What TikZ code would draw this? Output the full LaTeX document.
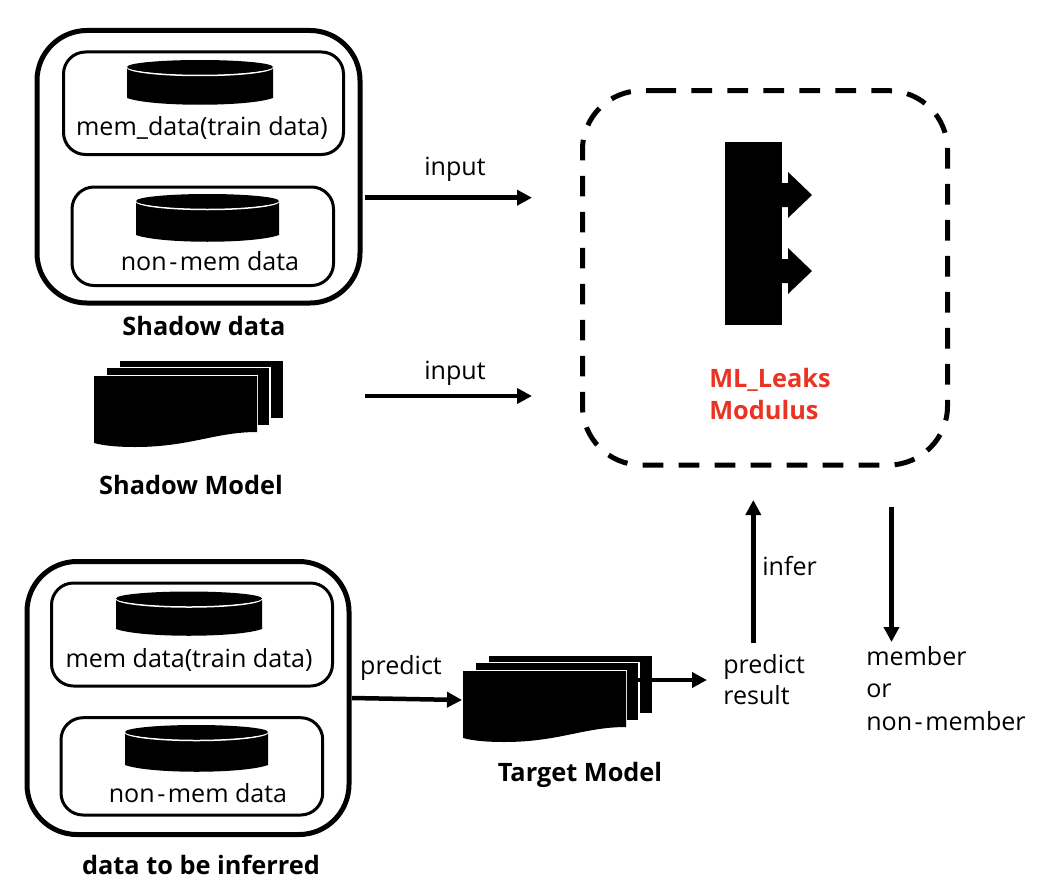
\documentclass[tikz,border=0pt]{standalone}
\usepackage{fontspec}
\setmainfont{Open Sans}
\usetikzlibrary{arrows.meta,calc}
\definecolor{leakred}{RGB}{234,51,35}
\newcommand{\widehy}{\kern1.9pt-\kern1.9pt}
\newcommand{\pxbox}[7]{% name x1 y1 x2 y2 width radius
  \node[draw=black,outer sep=0pt,line width=#6*0.75pt,rounded corners=#7*0.75pt,inner sep=0pt,minimum width=(#4-#2)*0.75pt,minimum height=(#5-#3)*0.75pt,anchor=north west] (#1) at (#2,#3) {};}
\newcommand{\discicon}[4]{% x1 y1 x2 y2
  \fill[black] (#1,#2+7) -- (#3,#2+7) -- (#3,#4-7) .. controls (#3-25,#4+2) and (#1+25,#4+2) .. (#1,#4-7) -- cycle;
  \draw[white,line width=1.5*0.75pt] (#1,#2+7) arc[start angle=180,end angle=360,x radius=(#3-#1)/2*0.75pt,y radius=8.5*0.75pt];
  \fill[black] ({(#1+#3)/2},#2+7) ellipse[x radius=(#3-#1)/2*0.75pt,y radius=7*0.75pt];
}
\newcommand{\docstack}[2]{% x y of top-left of the back sheet
  \begin{scope}[shift={(#1,#2)}]
    \fill[black] (0,0) rectangle (163,57);
    \fill[white] (-14.5,5.5) rectangle (150.5,66);
    \fill[black] (-13,7) rectangle (149,64);
    \fill[white] (-27.5,13.5) rectangle (137.5,73);
    \fill[black] (-26,15) -- (137,15) -- (137,71) .. controls (95,71) and (70,86) .. (15,86) .. controls (0,86) and (-15,85) .. (-26,82) -- cycle;
  \end{scope}
}
\tikzset{
  flow/.style={line width=4.5*0.75pt,-{Triangle[length=15*0.75pt,width=15*0.75pt]}},
  lbl/.style={font=\fontsize{18.8pt}{22pt}\selectfont,inner sep=0pt,anchor=base},
  lblw/.style={lbl,anchor=base west},
  boldlbl/.style={font=\fontsize{19pt}{22pt}\selectfont\bfseries,inner sep=0pt,anchor=base},
}
\begin{document}
\begin{tikzpicture}[x=0.75pt,y=-0.75pt]
\useasboundingbox (0,0) rectangle (1048,892);

% shadow data
\pxbox{shadowbox}{37}{30.5}{360}{303}{5}{50}
\pxbox{sinA}{63.5}{52}{343.5}{154.5}{3}{22}
\pxbox{sinB}{72}{187}{333.5}{285.5}{3}{22}
\discicon{127}{60}{273}{105}
\discicon{136}{194}{279}{242}
\node[lbl] (sA) at (202,135) {mem\_data(train data)};
\node[lbl] (sB) at (210,270) {non\widehy mem data};
\node[boldlbl] (sdata) at (204,335) {Shadow data};

% shadow model
\docstack{120}{361}
\node[boldlbl] (smodel) at (191,494) {Shadow Model};

% ML_Leaks module
\draw[black,line width=5*0.75pt,dash pattern=on 20.7*0.75pt off 15.3*0.75pt]
  (655.3,90.7) -- (888.5,90.7)
  arc[start angle=90,end angle=0,radius=59*0.75pt] -- (947.5,406)
  arc[start angle=0,end angle=-90,radius=59*0.75pt] -- (641.5,465)
  arc[start angle=-90,end angle=-180,radius=59*0.75pt] -- (582.5,149.7)
  arc[start angle=180,end angle=90,radius=59*0.75pt] -- (655.3,90.7);
\fill[black] (725,142) rectangle (782,325);
\fill[black] (782,183) -- (788,183) -- (788,172) -- (812,195) -- (788,218) -- (788,207) -- (782,207) -- cycle;
\fill[black] (782,259) -- (788,259) -- (788,248) -- (812,271) -- (788,294) -- (788,283) -- (782,283) -- cycle;
\node[boldlbl,anchor=base west,text=leakred] (ml) at (709,387) {ML\_Leaks};
\node[boldlbl,anchor=base west,text=leakred] (mod) at (709,419) {Modulus};

% lower data
\pxbox{inferbox}{27}{561.5}{349}{834.5}{5}{50}
\pxbox{iinA}{51.5}{583}{332.5}{686}{3}{22}
\pxbox{iinB}{61}{717.7}{322.7}{815}{3}{22}
\discicon{116}{591.5}{262}{636}
\discicon{125}{725}{268}{772}
\node[lbl] (iA) at (189,667) {mem data(train data)};
\node[lbl] (iB) at (198,802) {non\widehy mem data};
\node[boldlbl] (idata) at (201,874) {data to be inferred};

% target model
\docstack{489}{656}
\node[boldlbl] (tmodel) at (580,781) {Target Model};
\coordinate (targetout) at (636,680);
\coordinate (resultin) at (707,680);
\draw[flow] (targetout) -- (resultin);

% texts
\node[lbl] (in1) at (455,175) {input};
\node[lbl] (in2) at (455,379) {input};
\node[lbl] (pr) at (401,674) {predict};
\node[lblw] (res1) at (723,673) {predict};
\node[lblw] (res2) at (723,704) {result};
\node[lblw] (inf) at (762,575) {infer};
\node[lblw] (m1) at (866,665) {member};
\node[lblw] (m2) at (866,697) {or};
\node[lblw] (m3) at (866,730) {non\widehy member};

% connectors
\coordinate (a1s) at (365,197.7);
\coordinate (a1e) at (532,197.7);
\coordinate (a2s) at (365,396);
\coordinate (a2e) at (532,396);
\coordinate (a3s) at (352,698);
\coordinate (a3e) at (462,700);
\coordinate (a4s) at (753.3,643);
\coordinate (a4e) at (753.3,500);
\coordinate (a5s) at (891.5,506.7);
\coordinate (a5e) at (891.5,642);
\draw[flow] (a1s) -- (a1e);
\draw[flow] (a2s) -- (a2e);
\draw[flow] (a3s) -- (a3e);
\draw[flow] (a4s) -- (a4e);
\draw[flow] (a5s) -- (a5e);
\end{tikzpicture}
\end{document}
